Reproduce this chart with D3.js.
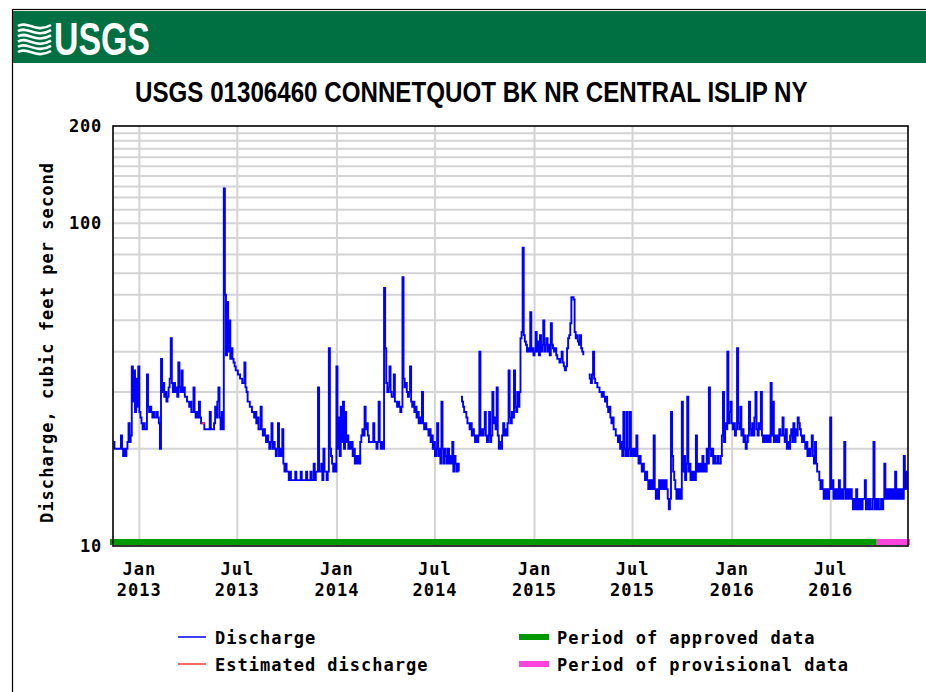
<!DOCTYPE html>
<html><head><meta charset="utf-8">
<script src="https://cdn.jsdelivr.net/npm/d3@7/dist/d3.min.js"></script>
<style>
body{margin:0;background:#fff}
svg{display:block}
.mono{font-family:"DejaVu Sans Mono",monospace;font-weight:bold;fill:#000}
</style>
</head><body>
<svg id="chart" width="926" height="692"></svg>
<script>
// ---------------- data ----------------
const chartTitle = "USGS 01306460 CONNETQUOT BK NR CENTRAL ISLIP NY";
const yAxisLabel = "Discharge, cubic feet per second";
const yTickValues = [10, 100, 200];
const yGridValues = [20,30,40,50,60,70,80,90,100,110,120,130,140,150,160,170,180,190];
const xTickDates = ["2013-01-01","2013-07-01","2014-01-01","2014-07-01","2015-01-01","2015-07-01","2016-01-01","2016-07-01"];
const xTickMonths = ["Jan","Jul","Jan","Jul","Jan","Jul","Jan","Jul"];
const xTickYears = ["2013","2013","2014","2014","2015","2015","2016","2016"];
const xDomain = ["2012-11-13T08:00","2016-11-20T19:00"];

// daily discharge sampled every 2 days starting at seriesStart (cfs); null = no data
const seriesStart = "2012-11-14";
const seriesStepDays = 2;
const discharge = [
 21,20,20,20,20,20,20,22,20,19,20,19,20,21,24,
 21,22,36,28,35,26,33,27,36,26,25,24,23,24,23,
 23,34,27,26,27,26,25,26,25,25,26,25,24,20,38,
 30,32,29,30,28,29,31,33,44,32,30,32,30,31,29,
 37,31,30,35,30,31,29,29,28,28,27,28,26,26,31,
 26,25,26,25,28,25,24,24,24,23,23,23,23,23,26,
 23,23,23,24,27,25,28,31,25,23,26,23,128,60,39,
 57,40,50,38,41,38,37,36,35,35,34,34,33,33,32,
 32,37,31,30,28,28,27,27,26,26,25,26,24,25,23,
 23,27,23,22,23,22,21,22,21,20,21,24,20,21,20,
 19,20,24,19,20,19,23,18,17,18,17,17,16,17,16,
 16,16,16,17,16,16,16,16,17,16,16,16,16,17,16,16,
 16,17,16,16,18,16,17,17,31,17,17,18,16,20,17,
 17,16,17,41,20,19,18,17,18,17,36,20,25,19,27,
 21,28,20,26,21,22,20,21,20,21,19,20,18,19,18,
 19,18,21,22,23,22,27,23,24,22,21,21,21,21,24,
 21,21,20,21,28,21,20,21,20,63,41,32,30,31,36,
 30,29,29,34,28,28,27,28,27,26,27,68,33,31,32,
 30,29,30,36,28,27,28,26,27,25,26,24,25,24,30,
 24,23,24,23,23,22,23,21,22,20,21,19,20,24,19,
 20,18,28,20,18,20,19,18,20,18,19,18,21,17,19,
 18,17,18,17,null,29,28,27,26,26,25,24,24,23,24,
 22,23,22,21,22,21,22,40,22,23,22,23,26,22,21,
 22,26,21,22,30,24,25,23,31,22,20,21,20,22,24,
 22,23,22,24,35,25,24,26,25,35,27,26,30,27,30,
 44,46,84,45,43,42,40,41,40,53,40,41,39,40,46,
 40,43,39,45,40,42,50,40,42,44,40,42,39,49,42,
 41,40,41,39,38,38,37,38,40,37,36,35,36,41,44,
 45,49,59,59,58,46,44,45,43,42,45,41,40,39,null,
 null,null,null,34,33,32,34,40,33,32,32,31,31,30,30,
 29,30,29,28,29,27,26,27,25,24,25,23,23,22,22,
 21,22,20,21,19,26,20,19,26,19,20,26,19,20,19,
 20,19,22,19,18,19,18,17,18,17,16,17,16,15,16,
 15,16,15,22,15,14,15,14,16,15,16,15,16,15,16,15,
 14,13,14,26,19,17,16,15,14,15,14,15,14,28,17,
 19,16,18,29,17,18,16,17,16,17,16,22,17,18,17,
 18,17,19,17,18,17,20,18,31,20,19,20,18,19,18,
 18,19,18,18,19,22,30,21,24,23,40,24,26,28,24,
 23,24,22,23,41,24,23,27,22,23,21,22,20,21,22,
 28,23,22,24,22,25,30,23,22,24,23,30,22,21,22,
 21,22,21,22,21,32,22,28,21,22,21,22,21,23,22,
 22,25,22,21,23,20,21,20,22,23,21,24,21,23,22,
 25,24,23,22,21,22,21,20,21,19,20,19,20,22,19,
 18,21,18,17,17,16,15,16,15,14,15,14,15,14,15,
 25,15,16,14,15,14,15,14,16,14,15,14,15,21,14,
 15,14,15,14,15,14,13,14,13,15,13,14,13,14,13,14,
 14,16,13,14,13,14,13,13,14,21,13,14,13,14,13,
 13,14,13,14,18,14,15,14,15,14,15,14,15,14,17,
 14,15,14,15,14,15,14,19,15,17,15
];
const estimatedDates = ["2013-04-26","2013-05-02"];
const estimatedValues = [24, 24];
const approvedPeriod = ["2012-11-13T08:00","2016-09-24"];
const provisionalPeriod = ["2016-09-24","2016-11-20T19:00"];
const legendLabels = ["Discharge","Estimated discharge","Period of approved data","Period of provisional data"];
const legendColors = ["#0000ff","#ff3333","#009900","#ff44dd"];

// ---------------- drawing ----------------
const svg = d3.select("#chart");
const W = 926, H = 692;
const m = {left:113, right:908, top:126, bottom:546};
const parse = s => new Date(s.length > 10 ? s : s + "T00:00");

const x = d3.scaleTime().domain(xDomain.map(parse)).range([m.left, m.right]);
const y = d3.scaleLog().domain([10, 200]).range([m.bottom, m.top]);

// outer frame
svg.append("rect").attr("x",12.5).attr("y",9.5).attr("width",W).attr("height",H)
  .attr("fill","none").attr("stroke","#000").attr("stroke-width",1.2);

// header band
svg.append("rect").attr("x",13).attr("y",11).attr("width",W-13).attr("height",52).attr("fill","#006f41");
const logo = svg.append("g");
for (let i = 0; i < 6; i++) {
  logo.append("path")
    .attr("d", `M18,${26+i*5.2} C27,${20+i*5.2} 36,${34+i*5.2} 51,${25+i*5.2}`)
    .attr("fill","none").attr("stroke","#fff").attr("stroke-width",2.6);
}
const logoText = svg.append("text").attr("x",0).attr("y",0)
  .attr("font-family","Liberation Sans, Arial, sans-serif").attr("font-weight","bold")
  .attr("font-size",46).attr("fill","#fff").text("USGS");
{
  const w = logoText.node().getComputedTextLength();
  logoText.attr("transform",`translate(54,55) scale(${96/w},1)`);
}

// title (condensed bold, scaled horizontally to the reference width)
const titleText = svg.append("text").attr("x",0).attr("y",0)
  .attr("font-family","Liberation Sans, Arial, sans-serif").attr("font-weight","bold")
  .attr("font-size",30).attr("fill","#000").text(chartTitle);
{
  const w = titleText.node().getComputedTextLength();
  titleText.attr("transform",`translate(135,102) scale(${673/w},1)`);
}

// grid
const grid = svg.append("g").attr("stroke","#d4d4d4").attr("stroke-width",2);
grid.selectAll("line.h").data(yGridValues).join("line").attr("class","h")
  .attr("x1",m.left).attr("x2",m.right).attr("y1",d=>y(d)).attr("y2",d=>y(d));
const tickDates = xTickDates.map(parse);
grid.selectAll("line.v").data(tickDates).join("line").attr("class","v")
  .attr("x1",d=>x(d)).attr("x2",d=>x(d)).attr("y1",m.top).attr("y2",m.bottom);

// approval bars
svg.append("rect").attr("x",x(parse(approvedPeriod[0]))-3).attr("y",539)
  .attr("width",x(parse(approvedPeriod[1]))-x(parse(approvedPeriod[0]))+3).attr("height",6)
  .attr("fill",legendColors[2]);
svg.append("rect").attr("x",x(parse(provisionalPeriod[0]))).attr("y",539)
  .attr("width",x(parse(provisionalPeriod[1]))-x(parse(provisionalPeriod[0]))+2).attr("height",6)
  .attr("fill",legendColors[3]);

// series
const start = parse(seriesStart);
const pts = discharge.map((v,i) => ({date:d3.timeDay.offset(start, i*seriesStepDays), value:v}));
const line = d3.line().defined(d => d.value != null)
  .x(d => x(d.date)).y(d => y(d.value)).curve(d3.curveStepAfter);
svg.append("path").datum(pts).attr("d",line)
  .attr("fill","none").attr("stroke",legendColors[0]).attr("stroke-width",1.9);
const est = estimatedDates.map((d,i)=>({date:parse(d), value:estimatedValues[i]}));
svg.append("path").datum(est).attr("d",line)
  .attr("fill","none").attr("stroke",legendColors[1]).attr("stroke-width",1.9);

// frame of plot
svg.append("rect").attr("x",m.left).attr("y",m.top).attr("width",m.right-m.left).attr("height",m.bottom-m.top)
  .attr("fill","none").attr("stroke","#000").attr("stroke-width",1.6);

// y tick labels
svg.selectAll("text.yt").data(yTickValues).join("text").attr("class","yt mono")
  .attr("x",102).attr("y",d=>y(d)+6).attr("text-anchor","end")
  .attr("font-size",17).attr("letter-spacing",0.8).text(d=>d);

// x tick labels
svg.selectAll("text.xm").data(tickDates).join("text").attr("class","xm mono")
  .attr("x",d=>x(d)).attr("y",575).attr("text-anchor","middle")
  .attr("font-size",17).attr("letter-spacing",1).text((d,i)=>xTickMonths[i]);
svg.selectAll("text.xy").data(tickDates).join("text").attr("class","xy mono")
  .attr("x",d=>x(d)).attr("y",596).attr("text-anchor","middle")
  .attr("font-size",17).attr("letter-spacing",1).text((d,i)=>xTickYears[i]);

// y axis title
svg.append("text").attr("class","mono")
  .attr("transform","translate(53,343) rotate(-90)").attr("text-anchor","middle")
  .attr("font-size",17).attr("textLength",360).attr("lengthAdjust","spacing").text(yAxisLabel);

// legend
const lg = svg.append("g");
const legPos = [[178,637],[178,664],[519,637],[519,664]];
legendLabels.forEach((lab,i)=>{
  const [lx,ly] = legPos[i];
  if (i < 2) {
    lg.append("line").attr("x1",lx).attr("x2",lx+28).attr("y1",ly).attr("y2",ly)
      .attr("stroke",legendColors[i]).attr("stroke-width",1.5);
    lg.append("text").attr("class","mono").attr("x",215).attr("y",ly+7)
      .attr("font-size",17).attr("letter-spacing",1).text(lab);
  } else {
    lg.append("rect").attr("x",lx).attr("y",ly-3).attr("width",30).attr("height",6)
      .attr("fill",legendColors[i]);
    lg.append("text").attr("class","mono").attr("x",557).attr("y",ly+7)
      .attr("font-size",17).attr("letter-spacing",1).text(lab);
  }
});
</script>
</body></html>
